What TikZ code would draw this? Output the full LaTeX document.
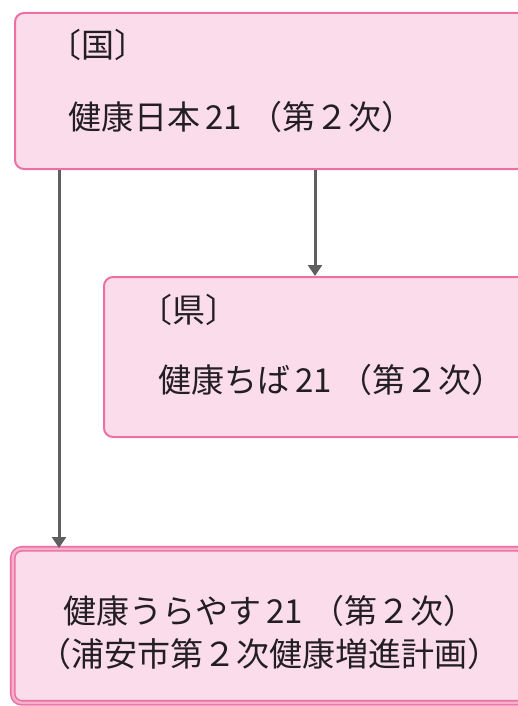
\documentclass[tikz,border=0pt]{standalone}
\usepackage{xcolor}
\usepackage{tikz}
\usepackage{fontspec}
\newfontfamily\jpfont{Noto Sans CJK JP}
\usetikzlibrary{arrows.meta, positioning, calc}
\definecolor{planpink}{RGB}{250, 220, 235}
\definecolor{planborder}{RGB}{236, 112, 163}
\definecolor{arrowgray}{RGB}{95, 95, 95}
\definecolor{textdark}{RGB}{35, 30, 35}
% spacing round the number in the plan names
\newcommand{\nijuichi}{\kern5pt 21\kern8pt}

\begin{document}
\begin{tikzpicture}[
    x=1pt, y=1pt,
    plan/.style={rectangle, rounded corners=9pt, draw=planborder, fill=planpink, line width=2pt, anchor=north west, inner sep=0pt},
    cityplan/.style={plan, draw=planborder, double=planborder!55, double distance=2.5pt, line width=1.6pt},
    label/.style={anchor=west, inner sep=0pt, font=\jpfont\fontsize{33}{43}\selectfont, text=textdark},
    arrow/.style={-{Triangle[width=14pt,length=11pt]}, line width=3pt, arrowgray}
]
    \useasboundingbox (0,0) rectangle (518,-706);
    \clip (0,0) rectangle (518,-706);

    \node[plan, minimum width=511pt, minimum height=156pt] (kuni) at (14,-12) {};
    \node[plan, minimum width=422pt, minimum height=160pt] (ken) at (103,-276) {};
    \node[cityplan, minimum width=514pt, minimum height=154pt] (shi) at (12,-548) {};

    \node[label] (kunihead) at (48,-45) {〔国〕};
    \node[label] (kunitext) at (68,-117) {健康日本\nijuichi（第２次）};
    \node[label] (kenhead) at (139,-310) {〔県〕};
    \node[label] (kentext) at (158,-380) {健康ちば\nijuichi（第２次）};
    \node[label, anchor=center, align=center] (shitext) at ($(shi.center)+(0,-7)$) {健康うらやす\nijuichi（第２次）\\（浦安市第２次健康増進計画）};

    \draw[arrow] ([xshift=45pt]kuni.south west) -- ([xshift=47pt]shi.north west);
    \draw[arrow] (kuni.south -| ken.north) -- (ken.north);
\end{tikzpicture}
\end{document}
